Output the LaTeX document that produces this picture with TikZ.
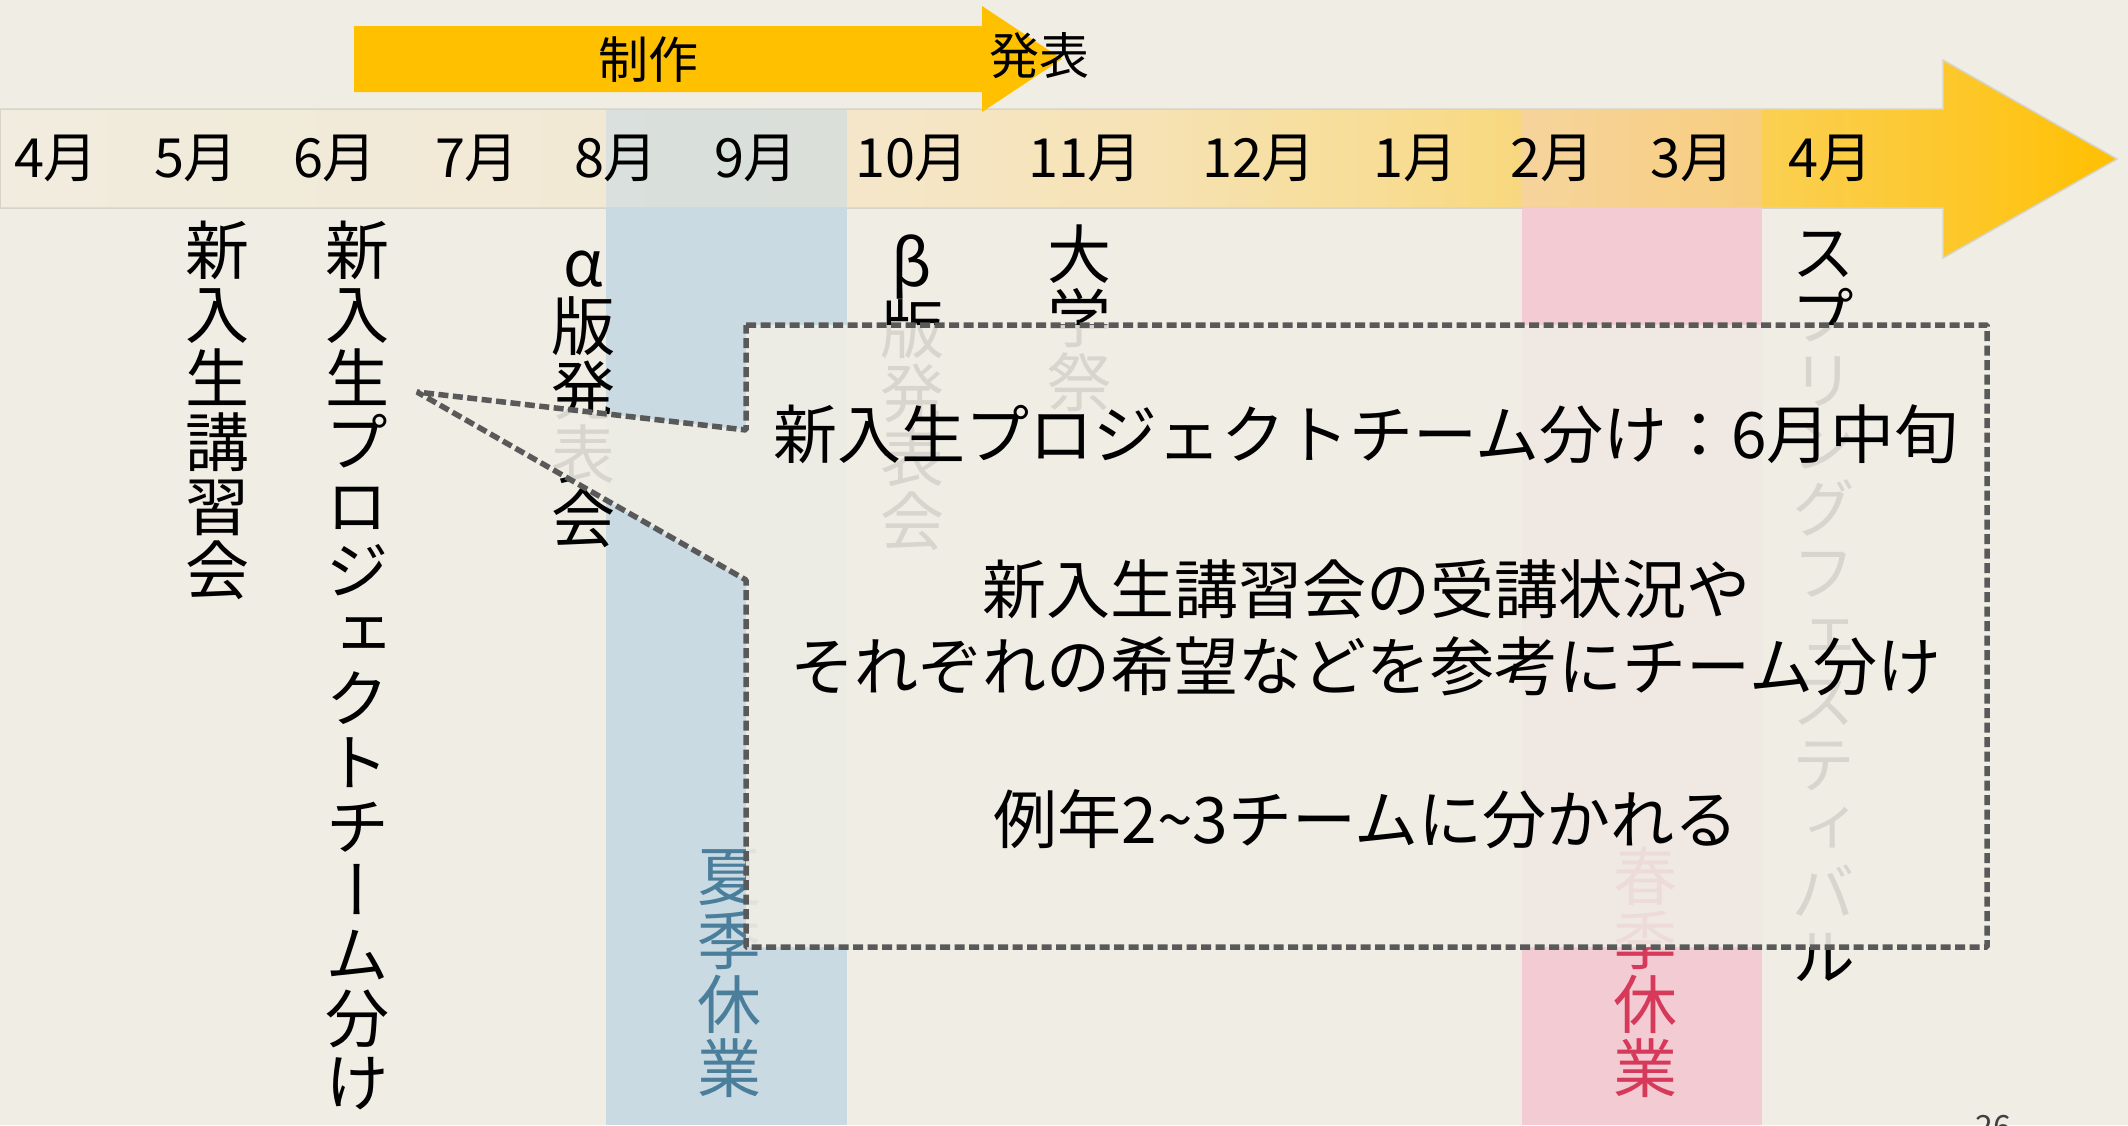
\documentclass[tikz,border=0pt]{standalone}
\usepackage{fontspec}
\setmainfont{Noto Sans CJK JP}
\newfontfamily\jpv[RawFeature={+vert}]{Noto Sans CJK JP}
\definecolor{bg}{RGB}{240,237,229}
\definecolor{gold}{RGB}{255,192,0}
\definecolor{sumband}{RGB}{201,218,227}
\definecolor{sprband}{RGB}{242,204,210}
\definecolor{sumtext}{RGB}{74,126,155}
\definecolor{sprtext}{RGB}{214,57,90}
\definecolor{dashgray}{RGB}{89,89,89}
\definecolor{arrowedge}{RGB}{214,211,200}
\definecolor{sa}{RGB}{241,236,222}
\definecolor{sb}{RGB}{242,233,212}
\definecolor{sc}{RGB}{245,230,200}
\definecolor{sd}{RGB}{246,226,178}
\definecolor{se}{RGB}{247,221,150}
\definecolor{sf}{RGB}{249,214,115}
\definecolor{sg}{RGB}{251,206,75}
\definecolor{sh}{RGB}{253,199,40}
\definecolor{si}{RGB}{255,192,0}
\pgfdeclarehorizontalshading{bigarrowshade}{100bp}{color(0bp)=(sa); color(25bp)=(sa); color(40bp)=(sb); color(46bp)=(sc); color(52.5bp)=(sd); color(57.5bp)=(se); color(62.5bp)=(sf); color(67.5bp)=(sg); color(71.5bp)=(sh); color(75bp)=(si); color(100bp)=(si)}
\tikzset{
  month/.style={font=\fontsize{54}{60}\selectfont, anchor=base, inner sep=0pt},
  vlabel/.style={font=\jpv\fontsize{64}{64}\selectfont, align=center, anchor=north, inner sep=0pt},
  calltext/.style={font=\fontsize{64}{70}\selectfont, anchor=base, inner sep=0pt},
  toptext/.style={font=\fontsize{50}{56}\selectfont, anchor=base, inner sep=0pt},
  callout/.style={draw=dashgray, line width=5.5pt, dash pattern=on 10pt off 4.5pt, line join=bevel, fill=bg, fill opacity=0.9},
}
\newcommand{\vstartx}{\lineskiplimit=-200pt\relax\rule{0pt}{58pt}}
\begin{document}
\begin{tikzpicture}[x=1pt,y=-1pt]
\useasboundingbox (0,0) rectangle (2128,1125);
\clip (0,0) rectangle (2128,1125);
\fill[bg] (0,0) rectangle (2128,1125);
% main timeline arrow
\path[shading=bigarrowshade, draw=arrowedge, line width=1.5pt]
  (0,109) -- (1943,109) -- (1943,60) -- (2117,159) -- (1943,258) -- (1943,208) -- (0,208) -- cycle;
% holiday bands
\fill[sumband, opacity=0.6] (606,109) rectangle (847,208);
\fill[sumband] (606,208) rectangle (847,1125);
\fill[sprband, opacity=0.35] (1522,109) rectangle (1762,208);
\fill[sprband] (1522,208) rectangle (1762,1125);
% production arrow
\fill[gold] (354,26) -- (982,26) -- (982,6) -- (1062,59) -- (982,112) -- (982,92) -- (354,92) -- cycle;
\node[toptext] (seisaku) at (648,78) {制作};
\node[toptext] (happyo) at (1039,74) {発表};
% months
\node[month] (m4) at (56,177) {4月};
\node[month] (m5) at (196,177) {5月};
\node[month] (m6) at (335,177) {6月};
\node[month] (m7) at (477,177) {7月};
\node[month] (m8) at (616,177) {8月};
\node[month] (m9) at (756,177) {9月};
\node[month] (m10) at (912,177) {10月};
\node[month] (m11) at (1085,177) {11月};
\node[month] (m12) at (1259,177) {12月};
\node[month] (m1) at (1415,177) {1月};
\node[month] (m2) at (1552,177) {2月};
\node[month] (m3) at (1692,177) {3月};
\node[month] (m4b) at (1830,177) {4月};
% vertical event labels
\node[vlabel] (ev1) at (217,216) {\vstartx 新\\入\\生\\講\\習\\会};
\node[vlabel] (ev2) at (357,216) {\vstartx 新\\入\\生\\プ\\ロ\\ジ\\ェ\\ク\\ト\\チ\\ー\\ム\\分\\け};
\node[vlabel] (ev3) at (583,228) {\vstartx α\\版\\発\\表\\会};
\node[vlabel] (ev4) at (912,228) {\vstartx β\\版\\発\\表\\会};
\node[vlabel] (ev5) at (1079,220) {\vstartx 大\\学\\祭};
\node[vlabel] (ev6) at (1823,218) {\vstartx ス\\プ\\リ\\ン\\グ\\フ\\ェ\\ス\\テ\\ィ\\バ\\ル};
\node[vlabel, text=sumtext] (hol1) at (729,842) {\vstartx 夏\\季\\休\\業};
\node[vlabel, text=sprtext] (hol2) at (1645,842) {\vstartx 春\\季\\休\\業};
% callout
\coordinate (bTL) at (746,325);
\coordinate (bTR) at (1987,325);
\coordinate (bBR) at (1987,947);
\coordinate (bBL) at (746,947);
\coordinate (wLo) at (746,580);
\coordinate (tip) at (417,392);
\coordinate (wHi) at (746,430);
\path[callout] (bTL) -- (bTR) -- (bBR) -- (bBL) -- (wLo) -- (tip) -- (wHi) -- cycle;
\node[calltext] (cl1) at (1366,458) {新入生プロジェクトチーム分け：6月中旬};
\node[calltext] (cl2) at (1366,613) {新入生講習会の受講状況や};
\node[calltext] (cl3) at (1366,690) {それぞれの希望などを参考にチーム分け};
\node[calltext] (cl4) at (1366,843) {例年2\char"007E 3チームに分かれる};
% page number
\node[font=\fontsize{32}{34}\selectfont, anchor=north, inner sep=0pt, text=black!75] (pg) at (1993,1115) {26};
\end{tikzpicture}
\end{document}
